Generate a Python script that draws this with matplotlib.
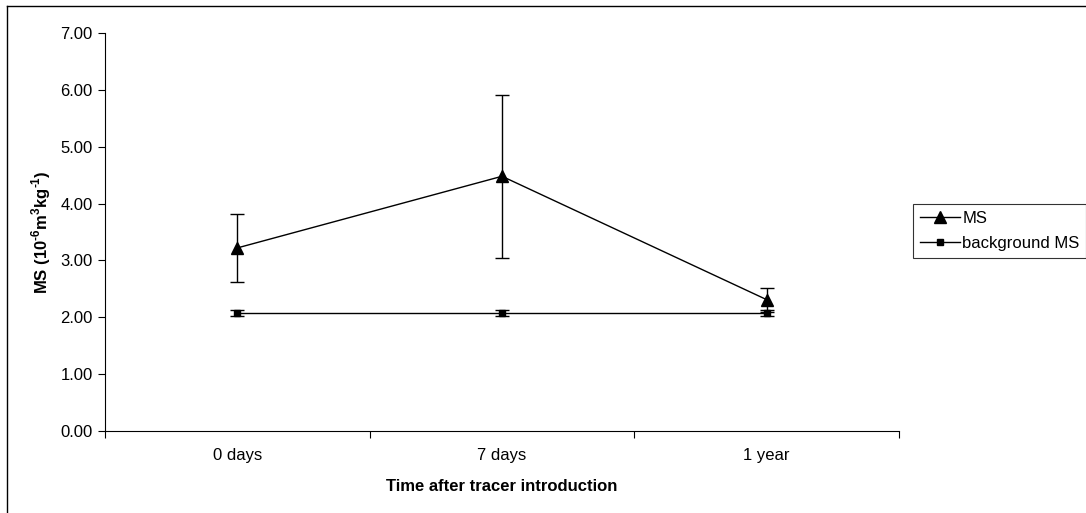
import matplotlib
matplotlib.use("Agg")
import matplotlib.pyplot as plt
from matplotlib.lines import Line2D
import numpy as np

plt.rcParams['font.family'] = ['Liberation Sans', 'DejaVu Sans']
plt.rcParams['mathtext.fontset'] = 'custom'
plt.rcParams['mathtext.rm'] = 'Liberation Sans'
plt.rcParams['mathtext.bf'] = 'Liberation Sans:bold'

categories = ['0 days', '7 days', '1 year']
ms_values = [3.22, 4.48, 2.31]
ms_err = [0.60, 1.43, 0.21]
bg_values = [2.07, 2.07, 2.07]
bg_err = [0.05, 0.05, 0.05]
y_ticks = [0, 1, 2, 3, 4, 5, 6, 7]

W, H = 1086, 513
fig = plt.figure(figsize=(W / 100, H / 100), dpi=100)
ax = fig.add_axes([105 / W, 1 - 431 / H, (899 - 105) / W, (431 - 33) / H])

x = np.arange(len(categories))

ax.errorbar(x, ms_values, yerr=ms_err, color='black', lw=1.0, marker='^',
            markersize=8, capsize=5, capthick=1.0, elinewidth=1.0)
ax.errorbar(x, bg_values, yerr=bg_err, color='black', lw=1.0, marker='s',
            markersize=4, capsize=5, capthick=1.0, elinewidth=1.0)

ax.set_xlim(-0.5, len(categories) - 0.5)
ax.set_ylim(0, 7)
ax.set_yticks(y_ticks)
ax.set_yticklabels(['%.2f' % v for v in y_ticks], fontsize=12)
ax.set_xticks(x)
ax.set_xticklabels(categories, fontsize=12)
ax.tick_params(axis='x', which='major', length=0, pad=12)
ax.set_xticks(np.arange(-0.5, len(categories)), minor=True)
ax.tick_params(axis='x', which='minor', length=5, width=0.8, direction='out')
ax.tick_params(axis='y', length=5, width=0.8, direction='out', pad=4)

for side in ['top', 'right']:
    ax.spines[side].set_visible(False)
for side in ['left', 'bottom']:
    ax.spines[side].set_linewidth(0.8)

ax.set_xlabel('Time after tracer introduction', fontsize=12, fontweight='bold',
              labelpad=12)
ax.set_ylabel('MS (10$^{\\mathbf{\u20106}}$m$^{\\mathbf{3}}$kg$^{\\mathbf{\u20101}}$)',
              fontsize=12, fontweight='bold', labelpad=5)

# legend entries without the error bar glyphs
handles = [
    Line2D([], [], color='black', lw=1.0, marker='^', markersize=8),
    Line2D([], [], color='black', lw=1.0, marker='s', markersize=4),
]
leg = fig.legend(handles=handles, labels=['MS', 'background MS'],
                 loc='center left', bbox_to_anchor=(913 / W, 1 - 231 / H),
                 fontsize=12, frameon=True, fancybox=False, handlelength=2.4,
                 handletextpad=0.15, borderpad=0.4, labelspacing=0.6,
                 borderaxespad=0)
leg.get_frame().set_edgecolor('black')
leg.get_frame().set_linewidth(0.8)

# chart area frame (left and top edges)
fig.add_artist(Line2D([7 / W, 7 / W], [0, 1 - 6 / H], color='black', lw=1,
                      transform=fig.transFigure))
fig.add_artist(Line2D([7 / W, 1], [1 - 6 / H, 1 - 6 / H], color='black', lw=1,
                      transform=fig.transFigure))

fig.savefig('out.png', dpi=100)
